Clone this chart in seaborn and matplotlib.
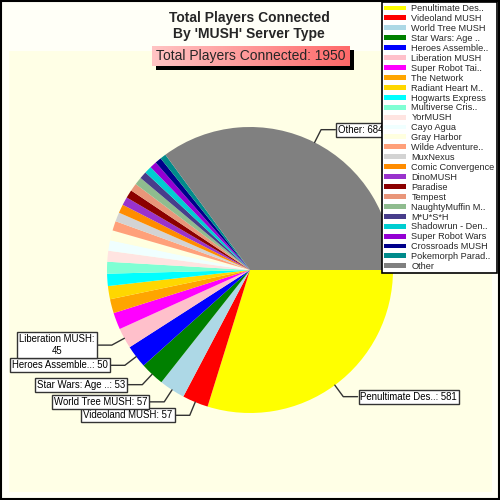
import numpy as np
import matplotlib
matplotlib.use("Agg")
import matplotlib.pyplot as plt
import seaborn as sns
from matplotlib.patches import Rectangle, Patch

# data
servers = ['Penultimate Des..', 'Videoland MUSH', 'World Tree MUSH', 'Star Wars: Age ..',
           'Heroes Assemble..', 'Liberation MUSH', 'Super Robot Tai..', 'The Network',
           'Radiant Heart M..', 'Hogwarts Express', 'Multiverse Cris..', 'YorMUSH',
           'Cayo Agua', 'Gray Harbor', 'Wilde Adventure..', 'MuxNexus', 'Comic Convergence',
           'DinoMUSH', 'Paradise', 'Tempest', 'NaughtyMuffin M..', 'M*U*S*H',
           'Shadowrun - Den..', 'Super Robot Wars', 'Crossroads MUSH', 'Pokemorph Parad..',
           'Other']
players = [581, 57, 57, 53, 50, 45, 37, 31, 29, 27, 26, 24, 23, 22, 21, 20, 19, 18, 18,
           17, 17, 16, 16, 15, 14, 13, 684]
color_names = ['#FFFF00', '#FF0000', '#ADD8E6', '#008000', '#0000FF', '#FFC0CB', '#FF00FF',
               '#FFA500', '#FFD700', '#00FFFF', '#7FFFD4', '#FFE4E1', '#F0FFFF', '#FFFFE0',
               '#FFA07A', '#D3D3D3', '#FF8C00', '#9932CC', '#8B0000', '#E9967A', '#8FBC8F',
               '#483D8B', '#00CED1', '#9400D3', '#00008B', '#008B8B', '#808080']
labeled = ['Penultimate Des..', 'Videoland MUSH', 'World Tree MUSH', 'Star Wars: Age ..',
           'Heroes Assemble..', 'Liberation MUSH', 'Other']

sns.set_theme(style="white")
plt.rcParams['font.family'] = ['Liberation Sans', 'DejaVu Sans']
palette = sns.color_palette(color_names)

fig = plt.figure(figsize=(5, 5), dpi=100, facecolor='#FFFFF7')

# inner yellow panel and frame
fig.patches.append(Rectangle((9 / 500, 8 / 500), 483 / 500, 441 / 500, transform=fig.transFigure,
                             facecolor='#FFFFE6', edgecolor='none', zorder=-2))
fig.patches.append(Rectangle((0.001, 0.003), 0.996, 0.996, transform=fig.transFigure,
                             facecolor='none', edgecolor='black', linewidth=1.5, zorder=10))

ax = fig.add_axes([107 / 500, 87 / 500, 286 / 500, 286 / 500])
wedges, _ = ax.pie(players, colors=palette, startangle=0, counterclock=False,
                   wedgeprops=dict(linewidth=0))
ax.set_xlim(-1, 1)
ax.set_ylim(-1, 1)
ax.set_aspect('equal')
ax.axis('off')

# leader lines + boxed labels
for w, name, val in zip(wedges, servers, players):
    if name not in labeled:
        continue
    mid = np.deg2rad((w.theta1 + w.theta2) / 2)
    x0, y0 = np.cos(mid), np.sin(mid)
    x1, y1 = 1.1 * x0, 1.1 * y0
    side = 1 if x0 > 0 else -1
    x2 = x1 + side * 0.1
    ax.plot([x0, x1, x2], [y0, y1, y1], color='#333333', lw=1, clip_on=False)
    txt = f"{name}: {val}"
    if name == 'Liberation MUSH':
        txt = f"{name}:\n{val}"
    ax.text(x2 + side * 0.02, y1, txt, ha='left' if side > 0 else 'right', va='center',
            fontsize=6.9, ma='center', color='black',
            bbox=dict(boxstyle='square,pad=0.2', facecolor='white', edgecolor='#333333', lw=1))

# titles
fig.text(0.498, 0.948, "Total Players Connected\nBy 'MUSH' Server Type", ha='center', va='center',
         fontsize=10, fontweight='bold', linespacing=1.25)

total = sum(players)
fig.patches.append(Rectangle((156 / 500, 1 - 70 / 500), 198 / 500, 20 / 500,
                             transform=fig.transFigure, facecolor='black', edgecolor='none',
                             zorder=-1))
gax = fig.add_axes([152 / 500, 1 - 66 / 500, 198 / 500, 20 / 500])
grad = np.linspace(0, 1, 256).reshape(1, -1)
gax.imshow(grad, aspect='auto', cmap=matplotlib.colors.LinearSegmentedColormap.from_list(
    'pr', ['#FFC4C4', '#FF6A6A']), extent=(0, 1, 0, 1))
gax.axis('off')
gax.text(0.5, 0.5, f"Total Players Connected: {total}", ha='center', va='center',
         fontsize=10, transform=gax.transAxes)

# legend
handles = [Patch(facecolor=c, edgecolor='none') for c in palette]
leg = fig.legend(handles, servers, loc='upper right', bbox_to_anchor=(497 / 500, 1 - 2 / 500),
                 fontsize=6.6, frameon=True, fancybox=False, framealpha=1, borderpad=0.25,
                 labelspacing=0.1, handlelength=2.4, handleheight=0.45, handletextpad=0.6,
                 borderaxespad=0)
leg.get_frame().set_edgecolor('black')
leg.get_frame().set_linewidth(1.2)

fig.savefig('out.png', dpi=100, facecolor=fig.get_facecolor())
